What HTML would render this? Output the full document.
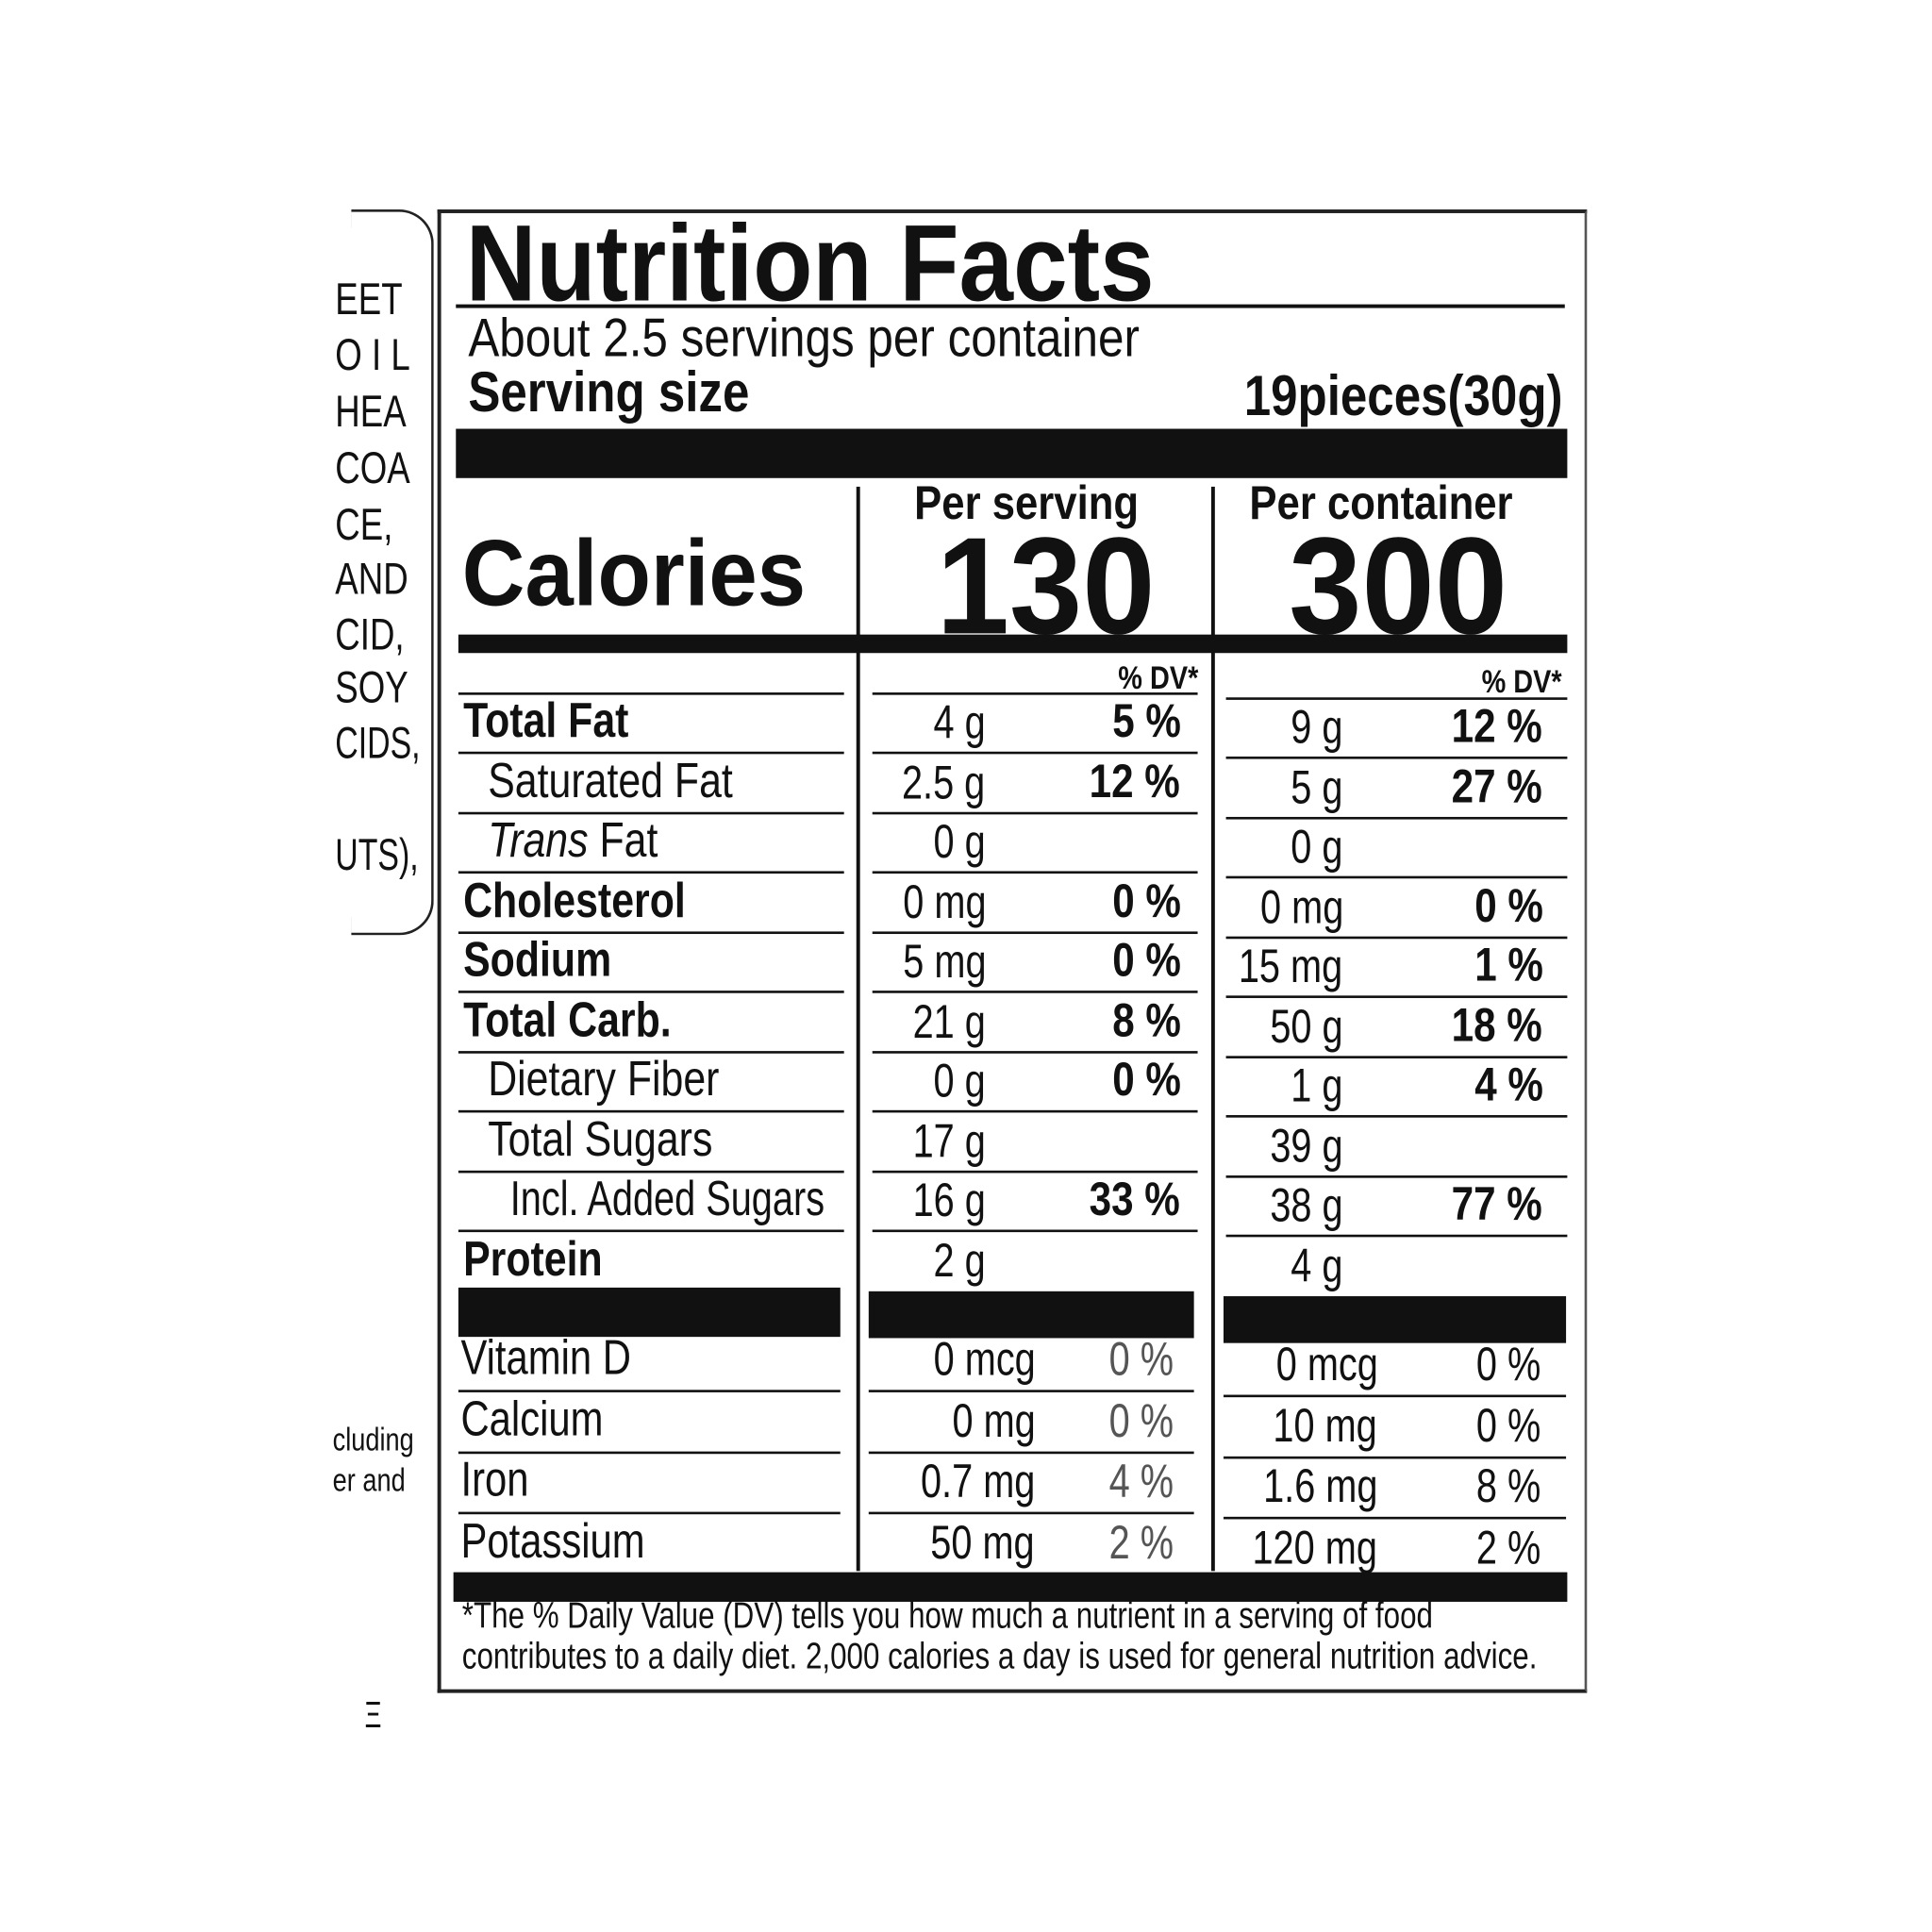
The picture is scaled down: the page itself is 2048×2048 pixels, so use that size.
<!DOCTYPE html>
<html><head><meta charset="utf-8"><style>
html,body{margin:0;padding:0;background:#fff;width:2048px;height:2048px;overflow:hidden}
#s{position:absolute;left:0;top:0;width:1568px;height:1568px;transform:scale(1.306122);transform-origin:0 0;font-family:"Liberation Sans",sans-serif;color:#111}
.t{position:absolute;white-space:nowrap;line-height:1;transform-origin:0 50%}
.r{transform-origin:100% 50%}
.b{font-weight:bold}
.l{position:absolute;background:#111}
</style></head><body><div id="s">
<!-- left panel -->
<div style="position:absolute;left:285px;top:170px;width:65px;height:585px;border:2px solid #222;border-left:none;border-radius:0 28px 28px 0"></div>
<div class="t" style="left:272px;top:225px;font-size:36px;transform:scaleX(.78)">EET</div>
<div class="t" style="left:272px;top:270px;font-size:36px;transform:scaleX(.78)">O I L</div>
<div class="t" style="left:272px;top:316px;font-size:36px;transform:scaleX(.78)">HEA</div>
<div class="t" style="left:272px;top:362px;font-size:36px;transform:scaleX(.78)">COA</div>
<div class="t" style="left:272px;top:408px;font-size:36px;transform:scaleX(.78)">CE,</div>
<div class="t" style="left:272px;top:452px;font-size:36px;transform:scaleX(.78)">AND</div>
<div class="t" style="left:272px;top:497px;font-size:36px;transform:scaleX(.78)">CID,</div>
<div class="t" style="left:272px;top:540px;font-size:36px;transform:scaleX(.78)">SOY</div>
<div class="t" style="left:272px;top:585px;font-size:36px;transform:scaleX(.72)">CIDS,</div>
<div class="t" style="left:272px;top:676px;font-size:36px;transform:scaleX(.72)">UTS),</div>
<div class="t" style="left:270px;top:1155px;font-size:26px;transform:scaleX(.8)">cluding</div>
<div class="t" style="left:270px;top:1188px;font-size:26px;transform:scaleX(.8)">er and</div>
<!-- main box -->
<div style="position:absolute;left:355px;top:170px;width:928px;height:1198px;border-left:3px solid #222;border-bottom:3px solid #222;border-top:3px solid #222;border-right:2px solid #555"></div>
<div class="t b" style="left:378px;top:170px;font-size:88px;transform:scaleX(.9)">Nutrition Facts</div>
<div class="l" style="left:370px;top:247px;width:900px;height:3px"></div>
<div class="t" style="left:380px;top:253px;font-size:44px;transform:scaleX(.86)">About 2.5 servings per container</div>
<div class="t b" style="left:380px;top:295px;font-size:46px;transform:scaleX(.85)">Serving size</div>
<div class="t b r" style="right:300px;top:298px;font-size:46px;transform:scaleX(.85)">19pieces(30g)</div>
<div class="l" style="left:370px;top:348px;width:902px;height:40px"></div>
<div class="t b" style="left:375px;top:428px;font-size:76px;transform:scaleX(.93)">Calories</div>
<div class="t b" style="left:742px;top:390px;font-size:38px;transform:scaleX(.88)">Per serving</div>
<div class="t b" style="left:1014px;top:390px;font-size:38px;transform:scaleX(.88)">Per container</div>
<div class="t b" style="left:760px;top:420px;font-size:112px;transform:scaleX(.95)">130</div>
<div class="t b" style="left:1046px;top:420px;font-size:112px;transform:scaleX(.95)">300</div>
<div class="l" style="left:695px;top:395px;width:3px;height:880px"></div>
<div class="l" style="left:983px;top:395px;width:3px;height:880px"></div>
<div class="l" style="left:372px;top:515px;width:900px;height:15px"></div>
<div class="t b r" style="right:595px;top:537px;font-size:26px;transform:scaleX(.85)">% DV*</div>
<div class="t b r" style="right:300px;top:540px;font-size:26px;transform:scaleX(.85)">% DV*</div>
<div class="l" style="left:708px;top:562px;width:264px;height:2px"></div>
<div class="l" style="left:995px;top:566px;width:277px;height:2px"></div>
<div class="l" style="left:372px;top:562px;width:313px;height:2px"></div>
<div id="rows"></div>
<!-- bars -->
<div class="l" style="left:372px;top:1045px;width:310px;height:40px"></div>
<div class="l" style="left:705px;top:1048px;width:264px;height:38px"></div>
<div class="l" style="left:993px;top:1052px;width:278px;height:38px"></div>
<div class="l" style="left:368px;top:1276px;width:904px;height:24px"></div>
<div class="t" style="left:375px;top:1297px;font-size:30px;transform:scaleX(.8)">*The % Daily Value (DV) tells you how much a nutrient in a serving of food</div>
<div class="t" style="left:375px;top:1330px;font-size:30px;transform:scaleX(.8)">contributes to a daily diet. 2,000 calories a day is used for general nutrition advice.</div>
<div class="t" style="left:296px;top:1378px;font-size:30px;transform:scaleX(.7)">Ξ</div>
<script>
var rows=[
["Total Fat",0,1,"4 g","5 %","9 g","12 %"],
["Saturated Fat",20,0,"2.5 g","12 %","5 g","27 %"],
["<i>Trans</i> Fat",20,0,"0 g","","0 g",""],
["Cholesterol",0,1,"0 mg","0 %","0 mg","0 %"],
["Sodium",0,1,"5 mg","0 %","15 mg","1 %"],
["Total Carb.",0,1,"21 g","8 %","50 g","18 %"],
["Dietary Fiber",20,0,"0 g","0 %","1 g","4 %"],
["Total Sugars",20,0,"17 g","","39 g",""],
["Incl. Added Sugars",38,0,"16 g","33 %","38 g","77 %"],
["Protein",0,1,"2 g","","4 g",""]];
var h="",y0=585;
rows.forEach(function(r,i){var y=y0+i*48.5;
var sx=i==8?.76:.82;
h+='<div class="t'+(r[2]?' b':'')+'" style="left:'+(376+r[1])+'px;top:'+(y-20)+'px;font-size:40px;transform:scaleX('+sx+')">'+r[0]+'</div>';
h+='<div class="t r" style="right:'+(1568-800)+'px;top:'+(y-17)+'px;font-size:38px;transform:scaleX(.8)">'+r[3]+'</div>';
h+='<div class="t b r" style="right:'+(1568-958)+'px;top:'+(y-18)+'px;font-size:38px;transform:scaleX(.85)">'+r[4]+'</div>';
h+='<div class="t r" style="right:'+(1568-1090)+'px;top:'+(y-13)+'px;font-size:38px;transform:scaleX(.8)">'+r[5]+'</div>';
h+='<div class="t b r" style="right:'+(1568-1252)+'px;top:'+(y-14)+'px;font-size:38px;transform:scaleX(.85)">'+r[6]+'</div>';
if(i<9){var ly=y+25;
h+='<div class="l" style="left:372px;top:'+ly+'px;width:313px;height:2px"></div>';
h+='<div class="l" style="left:708px;top:'+ly+'px;width:264px;height:2px"></div>';
h+='<div class="l" style="left:995px;top:'+(ly+4)+'px;width:277px;height:2px"></div>';}
});
var v=[["Vitamin D","0 mcg","0 %","0 mcg","0 %"],["Calcium","0 mg","0 %","10 mg","0 %"],["Iron","0.7 mg","4 %","1.6 mg","8 %"],["Potassium","50 mg","2 %","120 mg","2 %"]];
v.forEach(function(r,i){var y=1102+i*49.5;
h+='<div class="t" style="left:374px;top:'+(y-20)+'px;font-size:40px;transform:scaleX(.8)">'+r[0]+'</div>';
h+='<div class="t r" style="right:'+(1568-840)+'px;top:'+(y-17)+'px;font-size:38px;transform:scaleX(.8)">'+r[1]+'</div>';
h+='<div class="t r" style="right:'+(1568-952)+'px;top:'+(y-17)+'px;font-size:38px;transform:scaleX(.8);color:#555">'+r[2]+'</div>';
h+='<div class="t r" style="right:'+(1568-1118)+'px;top:'+(y-13)+'px;font-size:38px;transform:scaleX(.8)">'+r[3]+'</div>';
h+='<div class="t r" style="right:'+(1568-1250)+'px;top:'+(y-13)+'px;font-size:38px;transform:scaleX(.8)">'+r[4]+'</div>';
if(i<3){var ly=y+26;
h+='<div class="l" style="left:372px;top:'+ly+'px;width:310px;height:2px"></div>';
h+='<div class="l" style="left:705px;top:'+ly+'px;width:264px;height:2px"></div>';
h+='<div class="l" style="left:993px;top:'+(ly+4)+'px;width:278px;height:2px"></div>';}
});
document.getElementById("rows").outerHTML=h;
</script>
</div></body></html>
